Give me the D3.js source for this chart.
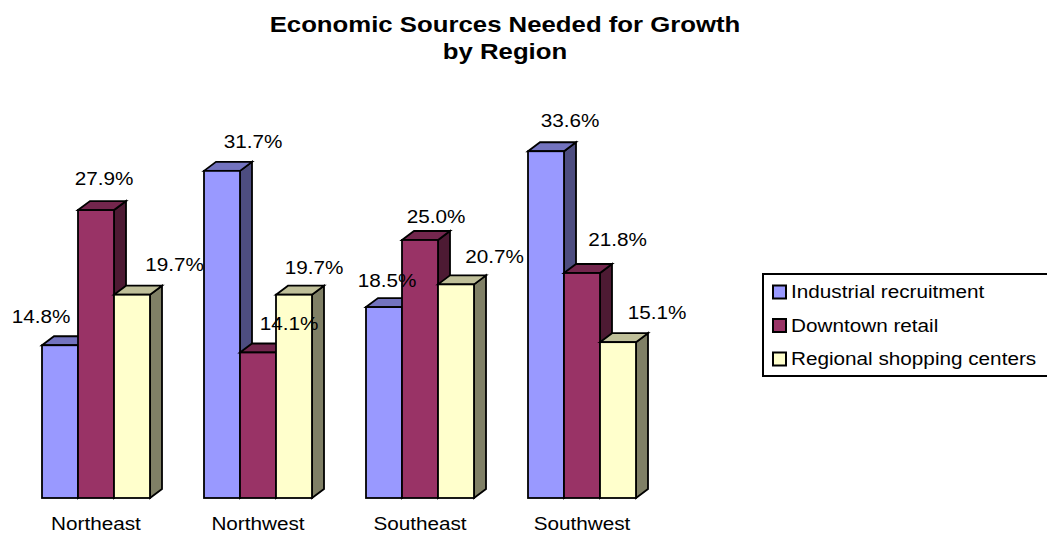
<!DOCTYPE html>
<html>
<head>
<meta charset="utf-8">
<script src="https://cdn.jsdelivr.net/npm/d3@7"></script>
<style>
  html, body { margin: 0; padding: 0; background: #fff; }
  svg { display: block; font-family: "Liberation Sans", Arial, sans-serif; }
</style>
</head>
<body>
<svg id="chart" width="1047" height="535"></svg>
<script>
// Survey shares by region
const regions = ["Northeast", "Northwest", "Southeast", "Southwest"];
const seriesNames = ["Industrial recruitment", "Downtown retail", "Regional shopping centers"];
const industrial = [14.8, 31.7, 18.5, 33.6];
const downtown = [27.9, 14.1, 25.0, 21.8];
const regional = [19.7, 19.7, 20.7, 15.1];
const titleLines = ["Economic Sources Needed for Growth", "by Region"];

// Face colours per series: front, top, side
const palette = [
  { front: "#9999FF", top: "#7373BF", side: "#4D4D80" },
  { front: "#993366", top: "#73264D", side: "#4D1A33" },
  { front: "#FFFFCC", top: "#BFBF99", side: "#808066" }
];

// Value-label nudges [dx, dy] relative to the bar's front centre / top edge
const labelNudge = [
  [[-19, -22], [31, -22.5], [3, -20], [24, -24]],
  [[8, -25], [31, -22.5], [16, -17], [35.5, -27]],
  [[42.5, -24], [20, -21], [38.5, -21], [39, -23]]
];

const seriesValues = [industrial, downtown, regional];
const svg = d3.select("#chart");
const stretch = 1.12;           // horizontal glyph stretch
const depthX = 12, depthY = 9;  // 3D extrusion

const x0 = d3.scaleBand().domain(regions).range([15, 663])
  .paddingInner(1 / 3).paddingOuter(1 / 6);
const x1 = d3.scaleBand().domain(d3.range(seriesNames.length)).range([0, x0.bandwidth()]);
const y = d3.scaleLinear().domain([0, 35]).range([498, 136.8]);

const fmt = d => d3.format(".1f")(d) + "%";

// Title
svg.selectAll("text.title").data(titleLines).join("text")
  .attr("class", "title")
  .attr("transform", (d, i) => `translate(505,${i === 0 ? 32 : 59}) scale(${stretch},1)`)
  .attr("text-anchor", "middle")
  .attr("font-size", 23)
  .attr("font-weight", "bold")
  .text(d => d);

// Bars, drawn left to right so nearer faces overlap correctly
const bars = [];
regions.forEach((r, ri) => {
  seriesNames.forEach((s, si) => {
    bars.push({ region: r, ri, si, value: seriesValues[si][ri] });
  });
});

const g = svg.append("g").attr("stroke", "#000").attr("stroke-width", 1.8)
  .attr("stroke-linejoin", "miter");

bars.forEach(b => {
  const xl = x0(b.region) + x1(b.si);
  const xr = xl + x1.bandwidth();
  const yt = y(b.value);
  const yb = y(0);
  const c = palette[b.si];
  const bg = g.append("g");
  // side face
  bg.append("polygon")
    .attr("points", [[xr, yb], [xr + depthX, yb - depthY], [xr + depthX, yt - depthY], [xr, yt]].join(" "))
    .attr("fill", c.side);
  // top face
  bg.append("polygon")
    .attr("points", [[xl, yt], [xl + depthX, yt - depthY], [xr + depthX, yt - depthY], [xr, yt]].join(" "))
    .attr("fill", c.top);
  // front face
  bg.append("rect")
    .attr("x", xl).attr("y", yt)
    .attr("width", xr - xl).attr("height", yb - yt)
    .attr("fill", c.front);
});

// Value labels
svg.append("g").selectAll("text").data(bars).join("text")
  .attr("transform", b => {
    const cx = x0(b.region) + x1(b.si) + x1.bandwidth() / 2 + labelNudge[b.si][b.ri][0];
    const cy = y(b.value) + labelNudge[b.si][b.ri][1];
    return `translate(${cx},${cy}) scale(${stretch},1)`;
  })
  .attr("text-anchor", "middle")
  .attr("font-size", 18.5)
  .attr("fill", "#000")
  .text(b => fmt(b.value));

// Category axis labels
svg.append("g").selectAll("text").data(regions).join("text")
  .attr("transform", r => `translate(${x0(r) + x0.bandwidth() / 2},530) scale(${stretch},1)`)
  .attr("text-anchor", "middle")
  .attr("font-size", 18.5)
  .text(r => r);

// Legend
const legend = svg.append("g");
legend.append("rect")
  .attr("x", 763).attr("y", 274).attr("width", 300).attr("height", 102)
  .attr("fill", "#fff").attr("stroke", "#000").attr("stroke-width", 2);
const rowBase = [298, 331.5, 365];
const items = legend.selectAll("g.item").data(seriesNames).join("g").attr("class", "item");
items.append("rect")
  .attr("x", 773).attr("y", (d, i) => rowBase[i] - 12.5)
  .attr("width", 13).attr("height", 13)
  .attr("fill", (d, i) => palette[i].front)
  .attr("stroke", "#000").attr("stroke-width", 2);
items.append("text")
  .attr("transform", (d, i) => `translate(791,${rowBase[i]}) scale(${stretch},1)`)
  .attr("font-size", 18.5)
  .text(d => d);
</script>
</body>
</html>
